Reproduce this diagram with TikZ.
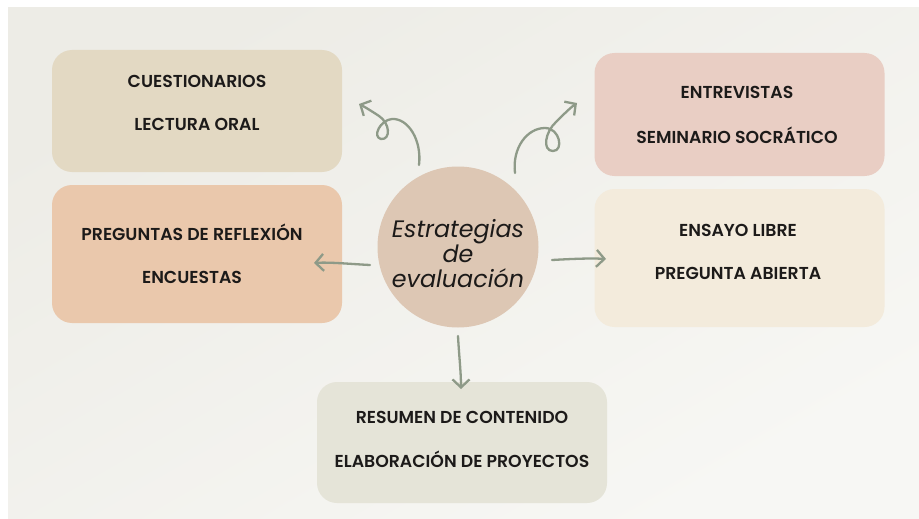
\documentclass[tikz,border=0pt]{standalone}
\usepackage{fontspec}
\setmainfont{Poppins}
\newfontfamily\boxfont{Poppins}[UprightFont=* SemiBold]
\newfontfamily\circfont{Poppins}[UprightFont=* Light, ItalicFont=* Italic]
\usetikzlibrary{arrows.meta}
\definecolor{bgc}{HTML}{EDECE6}
\definecolor{bgc2}{HTML}{F7F7F4}
\definecolor{cA}{HTML}{E3D9C3}
\definecolor{cB}{HTML}{EAC8AC}
\definecolor{cC}{HTML}{E9CEC4}
\definecolor{cD}{HTML}{F3EBDC}
\definecolor{cE}{HTML}{E5E4D8}
\definecolor{cCirc}{HTML}{DDC7B4}
\definecolor{arrc}{HTML}{8E9A88}
\definecolor{txtc}{HTML}{1C1A19}
\tikzset{
  card/.style={rounded corners=20pt, minimum width=290pt, inner sep=0pt},
  itemtxt/.style={font=\boxfont\fontsize{17.3}{19}\selectfont, text=txtc, text height=12pt, text depth=0pt, inner sep=0pt},
  flow/.style={draw=arrc, line width=2.3pt, line cap=round, line join=round, -{Straight Barb[length=8pt,width=17pt]}}
}
\begin{document}
\begin{tikzpicture}[x=1pt,y=-1pt]
\useasboundingbox (0,0) rectangle (919,519);
\fill[white] (0,0) rectangle (919,519);
\shade[top color=bgc, bottom color=bgc2, shading angle=30] (8,8) rectangle (919,519);
% cards
\node[card, fill=cA, minimum height=122pt] (bA) at (197,111) {};
\node[card, fill=cB, minimum height=138pt] (bB) at (197,254) {};
\node[card, fill=cC, minimum height=123pt] (bC) at (739.5,114.5) {};
\node[card, fill=cD, minimum height=138pt] (bD) at (739.5,258) {};
\node[card, fill=cE, minimum height=121pt] (bE) at (462,442.5) {};
% center
\node[circle, fill=cCirc, minimum size=161pt, inner sep=0pt] (c) at (458,247) {};
\node[font=\circfont\itshape\fontsize{23.8}{25}\selectfont, text=txtc, align=center, inner sep=0pt] (ct) at (458,254) {Estrategias\\de\\evaluación};
% texts
\node[itemtxt] (tA1) at (197,82) {CUESTIONARIOS};
\node[itemtxt] (tA2) at (197,125) {LECTURA ORAL};
\node[itemtxt] (tB1) at (192,234) {PREGUNTAS DE REFLEXIÓN};
\node[itemtxt] (tB2) at (192,277) {ENCUESTAS};
\node[itemtxt] (tC1) at (737,93) {ENTREVISTAS};
\node[itemtxt] (tC2) at (737,137) {SEMINARIO SOCRÁTICO};
\node[itemtxt] (tD1) at (738,230) {ENSAYO LIBRE};
\node[itemtxt] (tD2) at (738,273) {PREGUNTA ABIERTA};
\node[itemtxt] (tE1) at (462,417) {RESUMEN DE CONTENIDO};
\node[itemtxt] (tE2) at (462,461) {ELABORACIÓN DE PROYECTOS};
% connector ends
\coordinate (sL) at (370,265);
\coordinate (eL) at (314,263);
\coordinate (sR) at (552,260);
\coordinate (eR) at (606,259);
\coordinate (sD) at (458,336);
\coordinate (eD) at (461,389);
\coordinate (sUL) at (419,165);
\coordinate (eUL) at (359,104);
\coordinate (sUR) at (515,173);
\coordinate (eUR) at (577,103);
% connectors
\draw[flow] (sL) .. controls (350,264) and (330,262) .. (eL);
\draw[flow] (sR) .. controls (570,259) and (590,258) .. (eR);
\draw[flow] (sD) .. controls (459,355) and (461,372) .. (eD);
\draw[flow] (sUL) .. controls (422,140) and (408,118) .. (392,119)
  .. controls (380,120) and (372,137) .. (381,139)
  .. controls (391,140) and (390,123) .. (379,116)
  .. controls (373,112) and (365,107) .. (eUL);
\draw[flow] (sUR) .. controls (512,148) and (527,128) .. (545,128)
  .. controls (560,128) and (564,151) .. (553,151)
  .. controls (542,151) and (545,132) .. (556,122)
  .. controls (563,115) and (570,108) .. (eUR);
\end{tikzpicture}
\end{document}
